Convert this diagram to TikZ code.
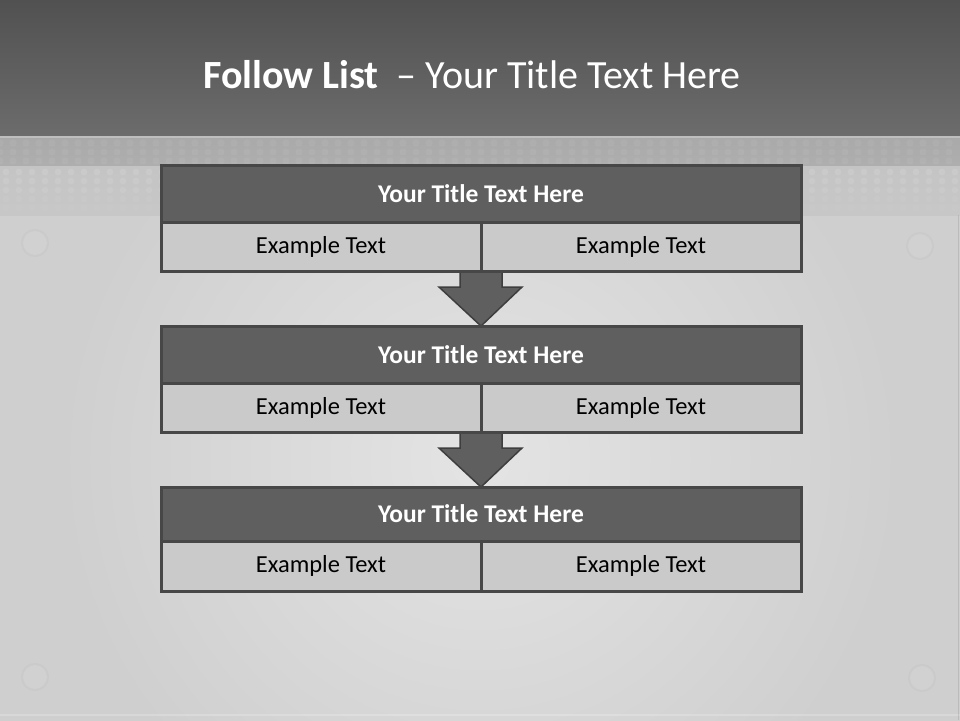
\documentclass[tikz,border=0pt]{standalone}
\usepackage{fontspec}
\setmainfont{Carlito}
\usetikzlibrary{calc}
\definecolor{hdr}{HTML}{5F5F5F}
\definecolor{cellc}{HTML}{CACACA}
\definecolor{edgec}{HTML}{474747}
\definecolor{arredge}{HTML}{3E3E3E}
\definecolor{topA}{HTML}{505050}
\definecolor{topB}{HTML}{6C6C6C}
\definecolor{bandA}{HTML}{A9A9A9}
\definecolor{bandB}{HTML}{C4C4C4}
\definecolor{bgout}{HTML}{CFCFCF}
\definecolor{bgin}{HTML}{E4E4E4}
\pgfdeclarelayer{bg}
\pgfdeclarelayer{arr}
\pgfsetlayers{bg,arr,main}
\begin{document}
\begin{tikzpicture}[x=1pt,y=-1pt,
  hdrbox/.style={draw=edgec, fill=hdr, line width=3pt, minimum width=640pt, minimum height=#1, inner sep=0pt, outer sep=0pt,
     text=white, font=\fontsize{25.5}{30}\selectfont\bfseries},
  cellbox/.style={draw=edgec, fill=cellc, line width=3pt, minimum width=320pt, minimum height=#1, inner sep=0pt, outer sep=0pt,
     text=black, font=\fontsize{24.5}{28}\selectfont},
  arrowshape/.style={fill=hdr, draw=arredge, line width=1.5pt, line join=miter},
  dot/.style={fill=white, opacity=#1},
  ring/.style={draw=gray!70, draw opacity=0.12, line width=2pt, fill=white, fill opacity=0.06}
]
\useasboundingbox (0,0) rectangle (960,720);
\begin{pgfonlayer}{bg}
  % main background
  \fill[bgout] (-5,-5) rectangle (965,725);
  \begin{scope}
    \clip (-5,215) rectangle (965,725);
    \shade[inner color=bgin, outer color=bgout] (480,460) circle (420);
  \end{scope}
  \fill[white, opacity=0.2] (0,714) rectangle (960,716);
  % top title band
  \shade[top color=topA, bottom color=topB] (-5,-5) rectangle (965,136);
  % dotted band
  \shade[top color=bandA, bottom color=bandA!80!bandB] (-5,136) rectangle (965,166);
  \shade[top color=bandB, bottom color=bandB!70!bgout] (-5,166) rectangle (965,215);
  \fill[white, opacity=0.25] (-5,136) rectangle (965,138);
  \foreach \x in {0,13,...,960} {
    \foreach \y/\o in {143/0.05,152/0.05,161/0.05} {
      \fill[dot=\o] (\x,\y) circle (3.6);
    }
    \foreach \y/\o in {172/0.10,181/0.09,190/0.07,199/0.05,208/0.03} {
      \fill[dot=\o] (\x+6,\y) circle (3.4);
    }
  }
  % faint corner rings
  \draw[ring] (35,243) circle (13);
  \draw[ring] (920,246) circle (13);
  \draw[ring] (35,677) circle (13);
  \draw[ring] (922,678) circle (13);
  \draw[gray!75, opacity=0.4, line width=1.5pt] (958.5,215) -- (958.5,720);
\end{pgfonlayer}

% title
\node[anchor=base west, inner sep=0pt, text=white, font=\fontsize{40}{47}\selectfont] (title) at (203,88)
  {{\bfseries Follow List}~ – Your Title Text Here};

% box 1
\node[hdrbox=57pt] (h1) at (481,193.5) {Your Title Text Here};
\node[cellbox=49pt] (c1l) at (321,246.5) {Example Text};
\node[cellbox=49pt] (c1r) at (641,246.5) {Example Text};
% box 2
\node[hdrbox=57pt] (h2) at (481,354.5) {Your Title Text Here};
\node[cellbox=49pt] (c2l) at (321,407.5) {Example Text};
\node[cellbox=49pt] (c2r) at (641,407.5) {Example Text};
% box 3
\node[hdrbox=54pt] (h3) at (481,514) {Your Title Text Here};
\node[cellbox=50pt] (c3l) at (321,566) {Example Text};
\node[cellbox=50pt] (c3r) at (641,566) {Example Text};

% arrows between boxes
\begin{pgfonlayer}{arr}
  \draw[arrowshape] ($(c1l.south east)+(-21,0)$) -- ($(c1l.south east)+(-21,16)$) -- ($(c1l.south east)+(-42,16)$)
     -- (h2.north) -- ($(c1l.south east)+(41,16)$) -- ($(c1l.south east)+(21,16)$) -- ($(c1l.south east)+(21,0)$);
  \draw[arrowshape] ($(c2l.south east)+(-21,0)$) -- ($(c2l.south east)+(-21,16)$) -- ($(c2l.south east)+(-42,16)$)
     -- (h3.north) -- ($(c2l.south east)+(41,16)$) -- ($(c2l.south east)+(21,16)$) -- ($(c2l.south east)+(21,0)$);
\end{pgfonlayer}
\end{tikzpicture}
\end{document}
